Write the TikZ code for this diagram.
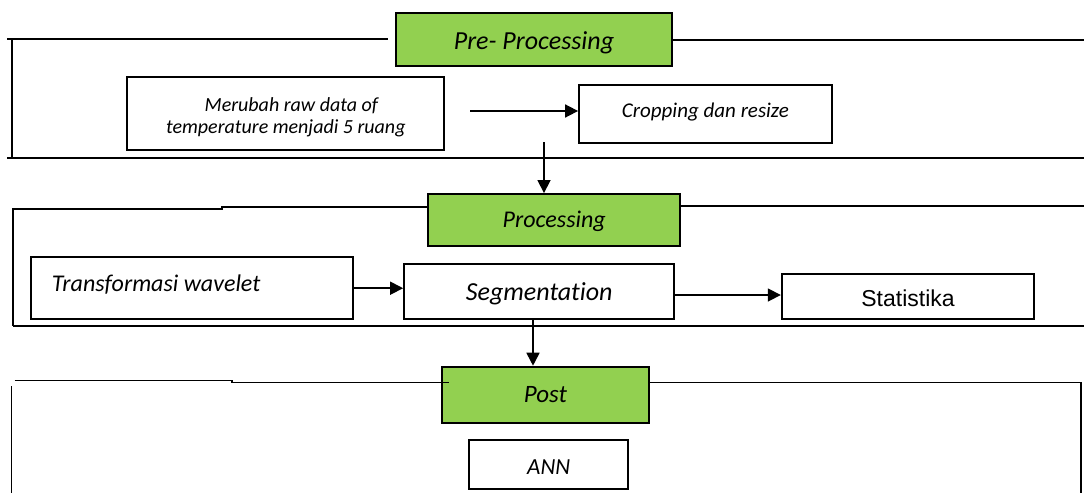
\documentclass[tikz,border=0pt]{standalone}
\usepackage{fontspec}
\newfontfamily\carlito[Ligatures=NoCommon]{Carlito}
\newfontfamily\arialfont{Liberation Sans}
\usetikzlibrary{arrows.meta}
\definecolor{stagegreen}{HTML}{92D050}

\begin{document}
\begin{tikzpicture}[x=1pt,y=-1pt,
  frame/.style={line width=2pt},
  thinframe/.style={line width=1.5pt},
  stage/.style={draw, line width=2pt, fill=stagegreen, inner sep=0pt, text depth=0pt},
  stepbox/.style={draw, line width=1.8pt, fill=white, inner sep=0pt, text depth=0pt},
  flow/.style={line width=1.7pt, -{Triangle[length=13pt,width=13pt]}},
  itf/.style={font=\carlito\itshape\fontsize{#1}{#1}\selectfont},
]
\useasboundingbox (0,0) rectangle (1084,493);

% ---- section frames ----
\draw[frame] (7,39) -- (388,39);
\draw[frame] (12,40) -- (12,157.5);
\draw[frame] (7,157.5) -- (1084,157.5);

\draw[frame] (13.3,325.7) -- (13.3,209.3) -- (221.7,209.3) -- (221.7,206.7) -- (428.3,206.7);
\draw[frame] (680,206) -- (1084,206);
\draw[frame] (13,325.7) -- (1084,325.7);

\draw[thinframe] (649,382.3) -- (1081,382.3) -- (1081,493);
\draw[thinframe] (11.5,386) -- (11.5,493);

% ---- stage 1: pre-processing ----
\node[stage, minimum width=276.6pt, minimum height=53pt, itf=26, text height=19.8pt] (pre) at (534,39.5) {Pre- Processing};
\draw[frame] (pre.east) -- (1084,39.5);

\node[stepbox, minimum width=317pt, minimum height=72.7pt] (raw) at (285.5,113.7) {};
\node[itf=20, anchor=base, inner sep=0pt] (rawA) at (291.3,111.7) {Merubah raw data of};
\node[itf=20, anchor=base, inner sep=0pt] (rawB) at (285.8,133) {temperature menjadi 5 ruang};

\node[stepbox, minimum width=253pt, minimum height=58pt, itf=21, text height=13.2pt, text depth=6pt] (crop) at (705.5,114) {Cropping dan resize};

% ---- stage 2: processing ----
\node[stage, minimum width=251.7pt, minimum height=51.7pt, itf=24, text height=15.1pt] (proc) at (554.2,219.9) {Processing};

\node[stepbox, minimum width=322pt, minimum height=61.7pt] (tw) at (191.7,288.2) {};
\node[itf=24, anchor=base west, inner sep=0pt] (twtext) at (51.7,291) {Transformasi wavelet};

\node[stepbox, minimum width=270.3pt, minimum height=55pt, itf=26, text height=16.4pt] (seg) at (539.2,291.8) {Segmentation};

\node[stepbox, minimum width=252.6pt, minimum height=45pt, font=\arialfont\fontsize{23}{23}\selectfont, text height=20.9pt] (stat) at (908,296.5) {Statistika};

% ---- stage 3: post ----
\node[stage, minimum width=207.3pt, minimum height=56pt, itf=25, text height=15.75pt] (post) at (545.4,394.7) {Post};
\draw[thinframe] (14.5,380.7) -- (232,380.7) -- (232,382.7) -- (448.5,382.7);

\node[stepbox, minimum width=159.3pt, minimum height=49pt, itf=23, text height=20.5pt] (ann) at (548.7,464.5) {ANN};

% ---- flow arrows ----
\coordinate (rawout) at (470,111);
\draw[flow] (rawout) -- (rawout -| crop.west);
\coordinate (preout) at (544,142);
\draw[flow] (preout) -- (preout |- proc.north);
\draw[flow] (tw.east) -- (tw.east -| seg.west);
\coordinate (segout) at (674.3,295);
\draw[flow] (segout) -- (segout -| stat.west);
\coordinate (procout) at (533,320);
\draw[flow] (procout) -- (procout |- post.north);
\end{tikzpicture}
\end{document}
